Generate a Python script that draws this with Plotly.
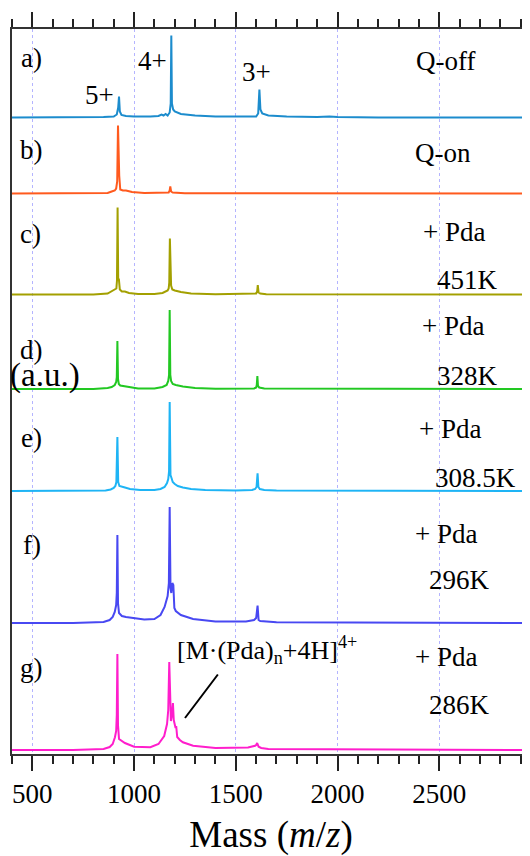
import plotly.graph_objects as go

# ---------------- data ----------------
mass_a = [400, 600, 850, 900, 915, 922, 926, 930, 938, 960, 1000, 1080, 1120, 1135, 1145, 1155, 1165, 1175,
          1180, 1183, 1186, 1192, 1200, 1230, 1300, 1400, 1550, 1600, 1610, 1616, 1621, 1630, 1660, 1750,
          1900, 1960, 2000, 2200, 2946]
int_a = [0, 0, 0.5, 1, 3, 10, 21, 6, 2.5, 1.5, 1, 1, 1.5, 3, 2, 3.5, 2, 5,
         14, 82, 14, 8, 6, 3.5, 2, 1, 0.5, 1, 4, 28, 8, 4, 2, 1,
         0.5, 1, 0.5, 0, 0]

mass_b = [400, 800, 870, 890, 905, 912, 917, 921, 924, 927, 932, 945, 960, 990, 1050, 1150, 1170, 1175,
          1178, 1182, 1190, 1250, 2946]
int_b = [0, 0, 0.5, 2, 3, 5, 12, 68, 20, 18, 4, 3, 3, 1.5, 0.5, 0.3, 1, 3,
         7, 2, 1, 0.3, 0]

mass_c = [400, 800, 870, 890, 900, 908, 913, 916, 919, 922, 925, 930, 940, 955, 975, 1020, 1100, 1140,
          1155, 1165, 1170, 1173, 1176, 1179, 1182, 1188, 1200, 1230, 1280, 1400, 1590, 1600, 1605, 1608,
          1612, 1620, 1650, 2946]
int_c = [0, 0, 1, 3, 4, 5, 6, 14, 87, 15, 16, 5, 3, 3, 1.5, 0.5, 0.5, 1.5,
         3, 4, 6, 12, 56, 11, 9, 5, 4, 2.5, 1, 0.3, 0.3, 1, 3, 9.5,
         2, 1, 0.3, 0]

mass_d = [400, 800, 870, 890, 905, 912, 915, 918, 921, 925, 932, 945, 970, 1020, 1100, 1140, 1160, 1168,
          1172, 1175, 1178, 1182, 1190, 1205, 1240, 1300, 1400, 1590, 1600, 1603, 1606, 1609, 1615, 1640, 2946]
int_d = [0, 0, 1, 2, 4, 7, 12, 48, 10, 5, 3.5, 3, 2, 0.5, 0.5, 2, 4, 8,
         14, 79, 14, 8, 5, 4, 2.5, 1, 0.3, 0.5, 1.5, 4, 13, 3, 1.5, 0.5, 0]

mass_e = [400, 800, 860, 885, 900, 908, 913, 918, 922, 928, 940, 955, 980, 1030, 1100, 1130, 1150, 1162,
          1168, 1172, 1175, 1179, 1184, 1190, 1200, 1215, 1240, 1280, 1350, 1500, 1580, 1595, 1602, 1607,
          1611, 1618, 1640, 1700, 2946]
int_e = [0, 0, 0.5, 1.5, 3, 5, 9, 54, 9, 5, 4, 3.5, 2, 1, 1, 2, 4, 8,
         12, 20, 89, 16, 13, 9, 7, 5, 3.5, 2, 1, 0.5, 1, 2, 4, 17.7,
         4, 2, 1, 0.5, 0]

mass_f = [400, 700, 850, 880, 895, 905, 912, 915, 918, 921, 926, 940, 960, 990, 1050, 1100, 1130, 1150,
          1165, 1171, 1175, 1179, 1183, 1188, 1193, 1198, 1205, 1230, 1290, 1400, 1550, 1590, 1600, 1607,
          1612, 1620, 1700, 2946]
int_f = [0, 0, 1, 3, 6, 11, 18, 30, 88, 20, 10, 7, 6, 5, 3.5, 4, 8, 16,
         27, 40, 116, 35, 30, 40, 38, 15, 12, 8, 4, 1.5, 1.5, 3, 5, 17.5,
         3, 2, 0.8, 0]

mass_g = [400, 700, 850, 880, 895, 906, 912, 915, 918, 921, 926, 940, 955, 1000, 1080, 1120, 1148, 1162,
          1168, 1173, 1177, 1181, 1186, 1191, 1195, 1200, 1204, 1207, 1212, 1225, 1240, 1290, 1400, 1560,
          1585, 1595, 1600, 1605, 1612, 1625, 1660, 2946]
int_g = [0, 0, 1, 3, 6, 12.7, 19, 35, 96, 25, 11, 9, 7, 3.3, 2.7, 6, 14, 26,
         40, 88, 40, 29, 35, 47, 30, 26, 22, 24, 13, 10, 7.7, 4.3, 2, 2.5,
         3.5, 4.3, 5, 7, 3.3, 2, 1, 0]

panel_labels = ["a)", "b)", "c)", "d)", "e)", "f)", "g)"]
condition_labels = ["Q-off", "Q-on", "+ Pda", "+ Pda", "+ Pda", "+ Pda", "+ Pda"]
temperature_labels = ["", "", "451K", "328K", "308.5K", "296K", "286K"]
charge_labels = ["5+", "4+", "3+"]
x_ticks = [500, 1000, 1500, 2000, 2500]

# ---------------- styling / layout ----------------
PAGE_OFF = 8                      # default body margin of the html page
W, H = 522, 848
ML, MR, MT, MB = 4, 0, 21, 102    # plot area on the page: x 12..530, y 29..754
XR = [400, 2946]
YR = [0, H - MT - MB]
FONT = "Liberation Serif"

spectra = [(mass_a, int_a), (mass_b, int_b), (mass_c, int_c), (mass_d, int_d),
           (mass_e, int_e), (mass_f, int_f), (mass_g, int_g)]
colors = ["#1c8ccd", "#ff5a1e", "#a3a000", "#22c822", "#1eb4f5", "#4848f2", "#ff1ecc"]
baseline_px = [117.5, 193.5, 294.5, 389, 491, 623, 750]   # page pixels

plot_left = ML + PAGE_OFF
plot_bottom = H - MB + PAGE_OFF
plot_w = W - ML - MR


def px2data(x, y):
    """convert a page pixel position into data coordinates"""
    xd = XR[0] + (x - plot_left) / plot_w * (XR[1] - XR[0])
    yd = plot_bottom - y
    return xd, yd


fig = go.Figure()
for (m, inten), col, bpx in zip(spectra, colors, baseline_px):
    off = plot_bottom - bpx
    fig.add_trace(go.Scatter(x=m, y=[v + off for v in inten], mode="lines",
                             line=dict(color=col, width=2), hoverinfo="skip",
                             showlegend=False))

ann = []


def text(t, x, y, size=27, xanchor="center"):
    xd, yd = px2data(x, y)
    ann.append(dict(x=xd, y=yd, xref="x", yref="y", text=t, showarrow=False,
                    xanchor=xanchor, yanchor="middle",
                    font=dict(family=FONT, size=size, color="black")))


panel_pos = [(31, 58), (31, 150), (30, 234), (31, 350), (31, 438), (32, 545), (31, 668)]
for lab, (x, y) in zip(panel_labels, panel_pos):
    text(lab, x, y)

cond_pos = [(445, 61), (443, 153), (454, 232), (453, 326), (450, 429), (446, 534), (446, 657)]
for lab, (x, y) in zip(condition_labels, cond_pos):
    text(lab, x, y)

temp_pos = [None, None, (467, 280), (467, 376), (475, 478), (459, 580), (459, 705)]
for lab, p in zip(temperature_labels, temp_pos):
    if lab:
        text(lab, p[0], p[1])

charge_pos = [(99, 95), (152, 61), (256, 72)]
for lab, (x, y) in zip(charge_labels, charge_pos):
    text(lab, x, y)

text("[M·(Pda)<sub>n</sub>+4H]<sup>4+</sup>", 175, 650, size=26, xanchor="left")

# pointer line of the callout
x0, y0 = px2data(185, 718)
x1, y1 = px2data(219, 673)
ann.append(dict(x=x0, y=y0, ax=x1, ay=y1, xref="x", yref="y", axref="x", ayref="y",
                text="", showarrow=True, arrowhead=0, arrowwidth=2, arrowcolor="black"))

# y label (cut at the left edge in the original)
ann.append(dict(x=0, y=(plot_bottom - 375) / (H - MT - MB), xref="paper", yref="paper",
                text="(a.u.)", showarrow=False, xanchor="left", yanchor="middle",
                xshift=-ML,
                font=dict(family=FONT, size=33, color="black")))

fig.update_layout(
    width=W, height=H,
    margin=dict(l=ML, r=MR, t=MT, b=MB, pad=0),
    paper_bgcolor="white", plot_bgcolor="white",
    annotations=ann,
    font=dict(family=FONT, color="black"),
    xaxis=dict(
        range=XR, tickvals=x_ticks, ticktext=[str(v) for v in x_ticks],
        ticks="outside", ticklen=15, tickwidth=2, tickcolor="#222",
        showline=True, linewidth=2, linecolor="#333", mirror="ticks",
        showgrid=True, gridcolor="#b4b4ff", griddash="dot", gridwidth=1,
        zeroline=False,
        minor=dict(dtick=100, tick0=0, ticks="outside", ticklen=8, tickwidth=2,
                   tickcolor="#222", showgrid=False),
        tickfont=dict(family=FONT, size=27, color="black"),
        title=dict(text="Mass (<i>m</i>/<i>z</i>)", standoff=15,
                   font=dict(family=FONT, size=37, color="black")),
    ),
    yaxis=dict(
        range=YR, showline=True, linewidth=2, linecolor="#333", mirror=False,
        showticklabels=False, ticks="", showgrid=False, zeroline=False,
    ),
)

fig.write_html("out.html")
